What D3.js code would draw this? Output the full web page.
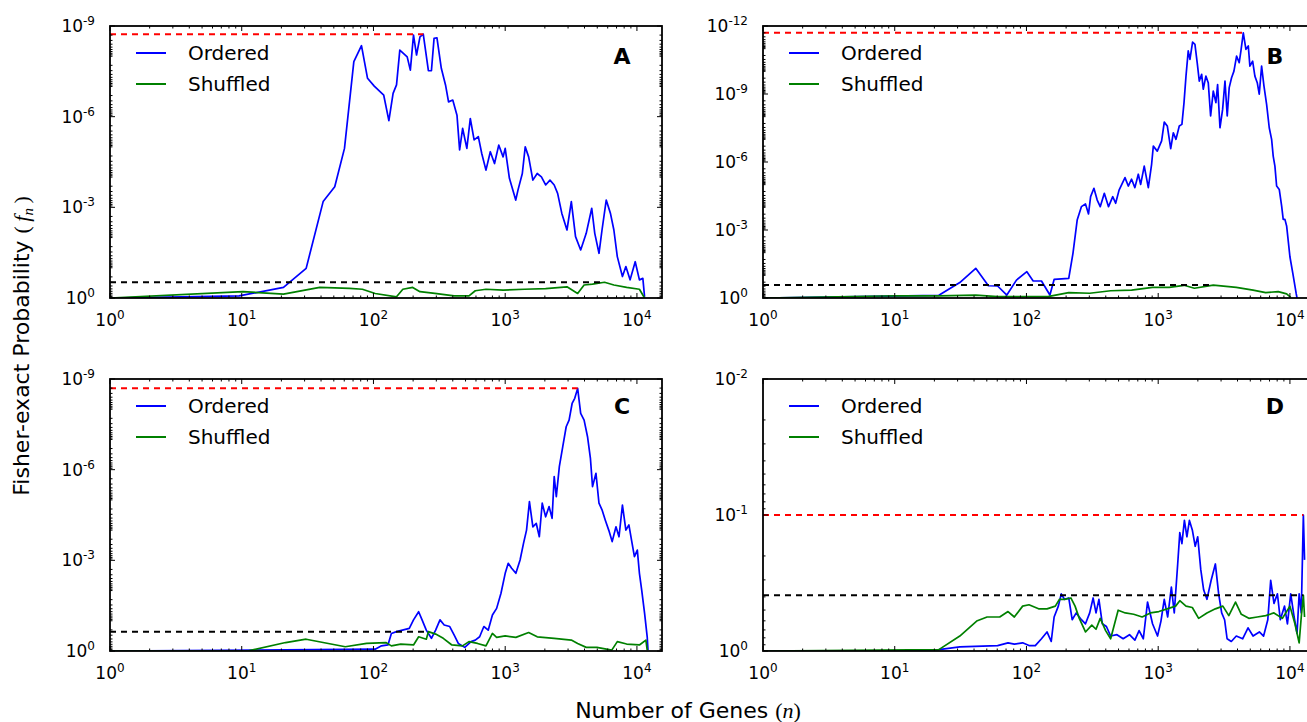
<!DOCTYPE html>
<html>
<head>
<meta charset="utf-8">
<script src="https://cdn.jsdelivr.net/npm/d3@7"></script>
<style>
  body { margin: 0; background: #fff; }
  svg { display: block; font-family: "DejaVu Sans", sans-serif; }
</style>
</head>
<body>
<svg id="fig"></svg>
<script>
// series values, each point is [log10(n), -log10(p)]
var aOrdered = [[0,0],[0.98,0.07],[1.317,0.35],[1.489,0.98],[1.618,3.19],[1.706,3.68],[1.78,4.95],[1.851,7.82],[1.909,8.35],[1.955,7.27],[2.006,7.01],[2.078,6.71],[2.117,5.87],[2.149,6.77],[2.175,7.05],[2.2,8.2],[2.256,7.98],[2.28,7.54],[2.304,8.7],[2.327,8.04],[2.353,8.64],[2.378,8.73],[2.417,7.52],[2.44,7.52],[2.46,8.59],[2.482,8.61],[2.515,7.6],[2.547,7.05],[2.57,6.49],[2.602,6.55],[2.634,6.05],[2.654,4.9],[2.677,5.61],[2.709,4.95],[2.735,5.94],[2.764,5.23],[2.796,5.34],[2.822,4.78],[2.854,4.23],[2.887,4.84],[2.919,4.45],[2.951,5.06],[2.984,4.67],[3.0,4.95],[3.032,3.96],[3.08,3.24],[3.097,3.57],[3.13,4.12],[3.152,5.0],[3.178,4.67],[3.21,3.9],[3.243,4.12],[3.275,4.01],[3.307,3.74],[3.34,3.9],[3.372,3.74],[3.398,3.46],[3.43,2.8],[3.469,2.25],[3.502,3.19],[3.534,2.03],[3.573,1.59],[3.615,2.14],[3.657,2.97],[3.68,2.14],[3.712,1.48],[3.735,2.25],[3.767,3.24],[3.799,2.8],[3.825,2.25],[3.851,1.37],[3.89,0.71],[3.916,1.04],[3.948,0.6],[3.987,1.2],[4.019,0.6],[4.045,0.65],[4.058,0.04]]
var aShuffled = [[0,0],[1.01,0.21],[1.317,0.13],[1.592,0.35],[1.819,0.32],[1.916,0.29],[2.013,0.15],[2.175,0.04],[2.223,0.29],[2.298,0.35],[2.353,0.21],[2.466,0.15],[2.612,0.07],[2.725,0.07],[2.773,0.24],[2.854,0.29],[2.984,0.26],[3.146,0.29],[3.307,0.31],[3.469,0.37],[3.55,0.15],[3.599,0.43],[3.663,0.46],[3.754,0.52],[3.825,0.43],[3.922,0.35],[4.019,0.29],[4.058,0]]

var bOrdered = [[0,0],[1.335,0.12],[1.494,0.68],[1.615,1.31],[1.711,0.54],[1.781,0.53],[1.851,0.13],[1.924,0.79],[2.003,1.16],[2.051,0.75],[2.114,0.75],[2.178,0.13],[2.21,0.82],[2.321,0.87],[2.353,1.97],[2.385,3.44],[2.417,4.03],[2.448,4.15],[2.471,3.71],[2.487,4.47],[2.512,4.84],[2.537,4.32],[2.56,4.03],[2.591,4.62],[2.623,4.03],[2.655,4.47],[2.677,4.18],[2.703,4.76],[2.748,5.31],[2.773,4.94],[2.798,5.24],[2.823,4.87],[2.849,5.46],[2.867,5.01],[2.894,5.82],[2.925,4.87],[2.95,5.9],[2.963,6.7],[2.993,6.48],[3.026,6.93],[3.046,7.76],[3.069,7.59],[3.095,6.59],[3.115,7.29],[3.135,7.0],[3.16,7.59],[3.18,7.66],[3.196,8.62],[3.211,9.79],[3.228,10.9],[3.241,10.53],[3.261,11.29],[3.279,11.19],[3.296,10.38],[3.312,9.57],[3.33,9.87],[3.342,9.21],[3.362,9.79],[3.38,9.5],[3.398,8.03],[3.418,9.13],[3.438,8.62],[3.451,9.42],[3.469,7.51],[3.489,8.32],[3.507,9.57],[3.524,8.03],[3.539,9.28],[3.557,9.72],[3.575,10.01],[3.595,10.67],[3.615,10.38],[3.628,10.9],[3.646,11.7],[3.666,10.97],[3.684,11.12],[3.696,10.23],[3.717,10.45],[3.734,9.79],[3.752,9.5],[3.767,8.99],[3.785,10.23],[3.803,9.35],[3.823,8.54],[3.843,7.51],[3.861,7.0],[3.873,6.26],[3.886,5.82],[3.899,4.94],[3.919,4.79],[3.937,4.06],[3.949,3.47],[3.962,3.47],[3.975,3.18],[4.0,1.82],[4.022,1.09],[4.048,0.18],[4.054,0]]
var bShuffled = [[0,0],[1.017,0.1],[1.335,0.09],[1.615,0.13],[1.781,0.06],[2.162,0.06],[2.321,0.24],[2.48,0.21],[2.639,0.32],[2.798,0.35],[2.957,0.47],[3.084,0.47],[3.196,0.56],[3.275,0.43],[3.418,0.57],[3.593,0.47],[3.72,0.35],[3.816,0.24],[3.911,0.28],[3.975,0.18],[4.006,0.03]]

var cOrdered = [[0,0],[2.013,0.06],[2.061,0.17],[2.11,0.2],[2.136,0.58],[2.175,0.64],[2.272,0.75],[2.304,1.03],[2.343,1.3],[2.369,1.03],[2.401,0.69],[2.44,0.42],[2.472,0.69],[2.505,1.03],[2.537,0.86],[2.579,0.81],[2.612,0.53],[2.644,0.25],[2.693,0.12],[2.741,0.31],[2.773,0.36],[2.806,0.47],[2.838,0.81],[2.871,0.69],[2.903,1.19],[2.935,1.41],[2.968,1.91],[3.0,2.57],[3.023,2.9],[3.049,2.74],[3.081,2.57],[3.113,3.01],[3.139,3.56],[3.162,4.0],[3.184,4.94],[3.21,4.11],[3.236,4.22],[3.259,3.78],[3.281,4.89],[3.307,4.44],[3.333,4.78],[3.356,4.39],[3.372,5.77],[3.388,5.11],[3.411,6.1],[3.437,6.76],[3.463,7.42],[3.485,7.64],[3.508,8.19],[3.528,8.36],[3.55,8.69],[3.573,7.86],[3.599,7.64],[3.625,7.09],[3.647,6.37],[3.663,5.44],[3.689,5.88],[3.712,4.89],[3.735,4.67],[3.76,4.33],[3.786,4.0],[3.812,3.62],[3.841,4.11],[3.864,3.78],[3.89,4.83],[3.916,4.0],[3.939,4.17],[3.961,3.62],[3.981,3.12],[4.003,3.34],[4.019,2.57],[4.036,2.02],[4.058,1.25],[4.078,0.47],[4.084,0.03]]
var cShuffled = [[0,0],[1.042,0],[1.333,0.28],[1.489,0.39],[1.786,0.14],[1.948,0.25],[2.094,0.28],[2.136,0.17],[2.207,0.23],[2.304,0.2],[2.343,0.47],[2.401,0.39],[2.417,0.64],[2.472,0.56],[2.53,0.42],[2.595,0.2],[2.676,0.17],[2.725,0.31],[2.79,0.25],[2.854,0.17],[2.903,0.58],[2.935,0.45],[3.0,0.5],[3.081,0.45],[3.178,0.61],[3.243,0.47],[3.372,0.42],[3.502,0.36],[3.55,0.25],[3.615,0.12],[3.696,0.12],[3.809,0.03],[3.851,0.31],[3.922,0.23],[4.019,0.2],[4.068,0.36],[4.078,0.03]]

var dOrdered = [[0,0],[1.017,0],[1.335,0.01],[1.494,0.03],[1.781,0.04],[1.86,0.06],[1.908,0.05],[1.971,0.06],[2.019,0.04],[2.067,0.04],[2.114,0.09],[2.156,0.14],[2.188,0.07],[2.21,0.25],[2.242,0.33],[2.264,0.42],[2.289,0.38],[2.321,0.39],[2.347,0.23],[2.378,0.28],[2.417,0.23],[2.448,0.2],[2.48,0.28],[2.506,0.39],[2.528,0.28],[2.55,0.38],[2.576,0.2],[2.607,0.18],[2.639,0.11],[2.687,0.12],[2.734,0.09],[2.782,0.12],[2.823,0.08],[2.855,0.15],[2.887,0.09],[2.919,0.36],[2.957,0.2],[2.995,0.11],[3.021,0.22],[3.046,0.38],[3.072,0.25],[3.1,0.47],[3.122,0.28],[3.148,0.64],[3.164,0.87],[3.18,0.79],[3.199,0.96],[3.218,0.84],[3.237,0.96],[3.259,0.89],[3.281,0.77],[3.3,0.84],[3.323,0.6],[3.345,0.45],[3.37,0.38],[3.402,0.52],[3.434,0.64],[3.459,0.42],[3.482,0.28],[3.504,0.23],[3.523,0.09],[3.555,0.07],[3.593,0.11],[3.641,0.09],[3.682,0.17],[3.72,0.11],[3.768,0.14],[3.8,0.11],[3.832,0.23],[3.854,0.52],[3.879,0.35],[3.905,0.42],[3.927,0.23],[3.959,0.33],[3.981,0.2],[4.006,0.42],[4.032,0.25],[4.054,0.13],[4.07,0.42],[4.086,0.28],[4.102,1.0],[4.111,0.67]]
var dShuffled = [[0,0],[1.335,0.01],[1.494,0.11],[1.622,0.22],[1.701,0.25],[1.797,0.25],[1.86,0.29],[1.908,0.25],[1.971,0.33],[2.019,0.34],[2.092,0.31],[2.156,0.31],[2.219,0.33],[2.251,0.38],[2.289,0.38],[2.337,0.39],[2.369,0.33],[2.401,0.24],[2.448,0.14],[2.496,0.19],[2.528,0.16],[2.56,0.24],[2.601,0.15],[2.639,0.09],[2.696,0.3],[2.75,0.28],[2.814,0.27],[2.878,0.25],[2.941,0.28],[3.005,0.29],[3.068,0.31],[3.132,0.33],[3.164,0.37],[3.211,0.33],[3.259,0.32],[3.307,0.24],[3.37,0.28],[3.434,0.31],[3.491,0.33],[3.536,0.26],[3.587,0.36],[3.631,0.27],[3.688,0.24],[3.752,0.25],[3.816,0.26],[3.879,0.28],[3.943,0.24],[4.0,0.33],[4.038,0.2],[4.07,0.06],[4.086,0.25],[4.102,0.41],[4.111,0.25]]

// panel letters and y ranges (exponent of the top tick)
var letters = ["A", "B", "C", "D"]
var yMaxes = [9, 12, 9, 2]
var yMajorSteps = [3, 3, 3, 1]
var xMajor = [1, 10, 100, 1000, 10000]
var xMax = 15500
var legendNames = ["Ordered", "Shuffled"]

var orderedSets = [aOrdered, bOrdered, cOrdered, dOrdered]
var shuffledSets = [aShuffled, bShuffled, cShuffled, dShuffled]

var width = 1307,
  height = 722
var pw = 552,
  ph = 272
var origins = [[110, 26], [763, 26], [110, 379], [763, 379]]

var svg = d3.select("#fig")
  .attr("width", width)
  .attr("height", height)

function supLabel(sel, base, exp) {
  sel.append("tspan").text(base)
  sel.append("tspan")
    .attr("dy", -7)
    .attr("font-size", 12)
    .text(exp)
}

origins.forEach(function (o, i) {

  var g = svg.append("g")
    .attr("transform", "translate(" + o[0] + "," + o[1] + ")")

  var x = d3.scaleLog().domain([1, xMax]).range([0, pw])
  var y = d3.scaleLinear().domain([0, yMaxes[i]]).range([ph, 0])

  g.append("clipPath")
    .attr("id", "clip" + i)
    .append("rect")
    .attr("width", pw)
    .attr("height", ph)

  var line = d3.line()
    .x(function (d) {
      return x(Math.pow(10, d[0]))
    })
    .y(function (d) {
      return y(d[1])
    })

  var plot = g.append("g").attr("clip-path", "url(#clip" + i + ")")

  /*
   * Data lines
   */

  plot.append("path")
    .datum(orderedSets[i])
    .attr("d", line)
    .attr("fill", "none")
    .attr("stroke", "#0000ff")
    .attr("stroke-width", 1.7)
    .attr("stroke-linejoin", "round")

  plot.append("path")
    .datum(shuffledSets[i])
    .attr("d", line)
    .attr("fill", "none")
    .attr("stroke", "#008000")
    .attr("stroke-width", 1.7)
    .attr("stroke-linejoin", "round")

  // max of each series, dashed from n = 1 to where it occurs
  var maxLines = [
    {data: orderedSets[i], color: "#ff0000"},
    {data: shuffledSets[i], color: "#000000"}
  ]
  maxLines.forEach(function (m) {
    var k = d3.maxIndex(m.data, function (d) {
      return d[1]
    })
    var top = m.data[k]
    plot.append("line")
      .attr("x1", x(1))
      .attr("x2", x(Math.pow(10, top[0])))
      .attr("y1", y(top[1]))
      .attr("y2", y(top[1]))
      .attr("stroke", m.color)
      .attr("stroke-width", 2)
      .attr("stroke-dasharray", "6,5")
  })

  /*
   * Ticks
   */

  var xMinor = []
  xMajor.forEach(function (v) {
    d3.range(2, 10).forEach(function (m) {
      if (v * m <= xMax) xMinor.push(v * m)
    })
  })

  var yMajor = d3.range(0, yMaxes[i] + 0.5, yMajorSteps[i])
  var yMinor = []
  d3.range(0, yMaxes[i]).forEach(function (k) {
    d3.range(1, 10).forEach(function (m) {
      var s = k + 1 - Math.log10(m)
      if (yMajor.indexOf(s) < 0) yMinor.push(s)
    })
  })

  var ticks = g.append("g")
    .attr("stroke", "#000")
    .attr("stroke-width", 1)

  function xTicks(vals, len) {
    vals.forEach(function (v) {
      ticks.append("line").attr("x1", x(v)).attr("x2", x(v)).attr("y1", ph).attr("y2", ph - len)
      ticks.append("line").attr("x1", x(v)).attr("x2", x(v)).attr("y1", 0).attr("y2", len)
    })
  }
  function yTicks(vals, len) {
    vals.forEach(function (v) {
      ticks.append("line").attr("x1", 0).attr("x2", len).attr("y1", y(v)).attr("y2", y(v))
      ticks.append("line").attr("x1", pw).attr("x2", pw - len).attr("y1", y(v)).attr("y2", y(v))
    })
  }
  xTicks(xMajor, 5)
  xTicks(xMinor, 2.5)
  yTicks(yMajor, 5)
  yTicks(yMinor, 2.5)

  // frame
  g.append("rect")
    .attr("width", pw)
    .attr("height", ph)
    .attr("fill", "none")
    .attr("stroke", "#000")
    .attr("stroke-width", 1.8)

  // tick labels
  xMajor.forEach(function (v) {
    var t = g.append("text")
      .attr("x", x(v))
      .attr("y", ph + 28)
      .attr("text-anchor", "middle")
      .attr("font-size", 17)
    supLabel(t, "10", String(Math.round(Math.log10(v))))
  })
  yMajor.forEach(function (v) {
    var t = g.append("text")
      .attr("x", -15)
      .attr("y", y(v) + 6)
      .attr("text-anchor", "end")
      .attr("font-size", 17)
    supLabel(t, "10", v === 0 ? "0" : "-" + v)
  })

  /*
   * Legend and panel letter
   */

  var legend = g.append("g")
  ;["#0000ff", "#008000"].forEach(function (c, j) {
    var ly = 27 + j * 31
    legend.append("line")
      .attr("x1", 26)
      .attr("x2", 56)
      .attr("y1", ly)
      .attr("y2", ly)
      .attr("stroke", c)
      .attr("stroke-width", 2)
    legend.append("text")
      .attr("x", 78)
      .attr("y", ly + 7)
      .attr("font-size", 20)
      .text(legendNames[j])
  })

  g.append("text")
    .attr("x", 512)
    .attr("y", i < 2 ? 38 : 35)
    .attr("text-anchor", "middle")
    .attr("font-size", 22)
    .attr("font-weight", "bold")
    .text(letters[i])
})

/*
 * Axis titles
 */

var yl = svg.append("text")
  .attr("transform", "translate(29,346) rotate(-90)")
  .attr("text-anchor", "middle")
  .attr("font-size", 22)
yl.append("tspan").text("Fisher-exact Probability ")
yl.append("tspan").attr("font-family", "Liberation Serif").text("(\u2009")
yl.append("tspan").attr("font-family", "Liberation Serif").attr("font-style", "italic").text("f")
yl.append("tspan").attr("font-family", "Liberation Serif").attr("font-style", "italic").attr("font-size", 15).attr("dy", 4).text("n")
yl.append("tspan").attr("font-family", "Liberation Serif").attr("dy", -4).text("\u2009)")

var xl = svg.append("text")
  .attr("x", 688)
  .attr("y", 718)
  .attr("text-anchor", "middle")
  .attr("font-size", 22)
xl.append("tspan").text("Number of Genes ")
xl.append("tspan").attr("font-family", "Liberation Serif").text("(")
xl.append("tspan").attr("font-family", "Liberation Serif").attr("font-style", "italic").text("n")
xl.append("tspan").attr("font-family", "Liberation Serif").text(")")
</script>
</body>
</html>
